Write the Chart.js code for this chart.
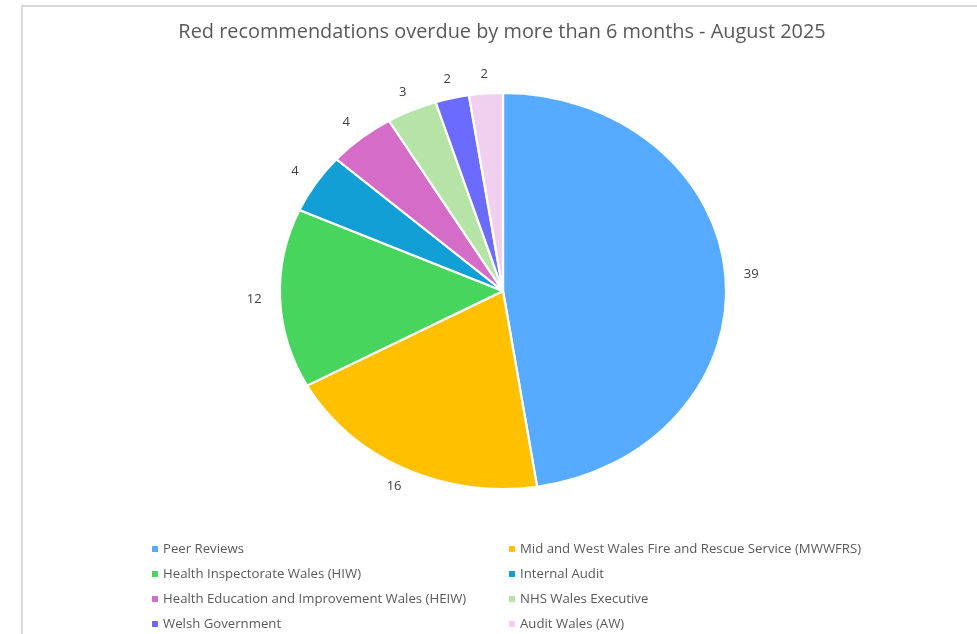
<!DOCTYPE html>
<html>
<head>
<meta charset="utf-8">
<title>Red recommendations overdue</title>
<script src="https://cdn.jsdelivr.net/npm/chart.js@4/dist/chart.umd.min.js"></script>
<style>
    html, body { margin: 0; padding: 0; background: #fff; }
    #wrap { position: relative; width: 977px; height: 634px; }
    #frame {
        position: absolute; left: 21px; top: 5px; right: -2px; bottom: -2px;
        border-left: 2px solid #d9d9d9; border-top: 2px solid #d9d9d9;
    }
    canvas { position: absolute; left: 0; top: 0; }
</style>
</head>
<body>
<div id="wrap">
    <div id="frame"></div>
    <canvas id="overduePie" width="977" height="634"></canvas>
</div>
<script>
// Chart data
const chartTitle = 'Red recommendations overdue by more than 6 months - August 2025';
const categories = [
    'Peer Reviews',
    'Mid and West Wales Fire and Rescue Service (MWWFRS)',
    'Health Inspectorate Wales (HIW)',
    'Internal Audit',
    'Health Education and Improvement Wales (HEIW)',
    'NHS Wales Executive',
    'Welsh Government',
    'Audit Wales (AW)'
];
const overdueCounts = [39, 16, 12, 4, 4, 3, 2, 2];
const sliceColours = ['#56aaff', '#ffc000', '#48d55e', '#129fd6', '#d56dc8', '#b5e4a6', '#6b6bff', '#f1cfee'];

const TEXT_COLOUR = '#595959';
const FONT = '"Open Sans", "Noto Sans", sans-serif';
const X_STRETCH = 222 / 197;   // the pie is drawn as a wide ellipse

// Stretch the arcs horizontally around the pie centre
const stretchPlugin = {
    id: 'stretchPie',
    beforeDatasetsDraw(chart) {
        const arc = chart.getDatasetMeta(0).data[0];
        const ctx = chart.ctx;
        ctx.save();
        ctx.translate(arc.x, arc.y);
        ctx.scale(X_STRETCH, 1);
        ctx.translate(-arc.x, -arc.y);
    },
    afterDatasetsDraw(chart) {
        chart.ctx.restore();
    }
};

// Value labels just outside each slice
const valueLabelPlugin = {
    id: 'valueLabels',
    afterDatasetsDraw(chart) {
        const ctx = chart.ctx;
        const values = chart.data.datasets[0].data;
        ctx.save();
        ctx.font = '13px ' + FONT;
        ctx.fillStyle = '#404040';
        ctx.textAlign = 'center';
        ctx.textBaseline = 'middle';
        chart.getDatasetMeta(0).data.forEach((arc, i) => {
            const mid = (arc.startAngle + arc.endAngle) / 2;
            // labels above/below sit a little closer than those at the sides
            const s = Math.sin(mid);
            const dist = arc.outerRadius + 23 - 4 * s * s;
            const x = arc.x + Math.cos(mid) * dist * X_STRETCH;
            const y = arc.y + s * dist;
            ctx.fillText(String(values[i]), x, y);
        });
        ctx.restore();
    }
};

// Title and two-column legend
const captionPlugin = {
    id: 'captions',
    afterDraw(chart) {
        const ctx = chart.ctx;
        ctx.save();
        ctx.fillStyle = TEXT_COLOUR;
        ctx.textBaseline = 'middle';
        ctx.textAlign = 'center';
        ctx.font = '19.9px ' + FONT;
        ctx.fillText(chartTitle, 502, 32);

        ctx.textAlign = 'left';
        ctx.font = '13.2px ' + FONT;
        const colX = [155, 512];
        chart.data.labels.forEach((label, i) => {
            const x = colX[i % 2];
            const y = 549 + Math.floor(i / 2) * 25;
            ctx.fillStyle = sliceColours[i];
            ctx.fillRect(x - 3, y - 3, 6, 6);
            ctx.fillStyle = TEXT_COLOUR;
            ctx.fillText(label, x + 8, y);
        });
        ctx.restore();
    }
};

new Chart(document.getElementById('overduePie'), {
    type: 'pie',
    data: {
        labels: categories,
        datasets: [{
            data: overdueCounts,
            backgroundColor: sliceColours,
            borderColor: '#ffffff',
            borderWidth: 2
        }]
    },
    options: {
        responsive: false,
        animation: false,
        layout: {
            padding: { top: 92, bottom: 144, left: 304, right: 275 }
        },
        plugins: {
            legend: { display: false },
            title: { display: false },
            tooltip: { enabled: false }
        }
    },
    plugins: [stretchPlugin, valueLabelPlugin, captionPlugin]
});
</script>
</body>
</html>
